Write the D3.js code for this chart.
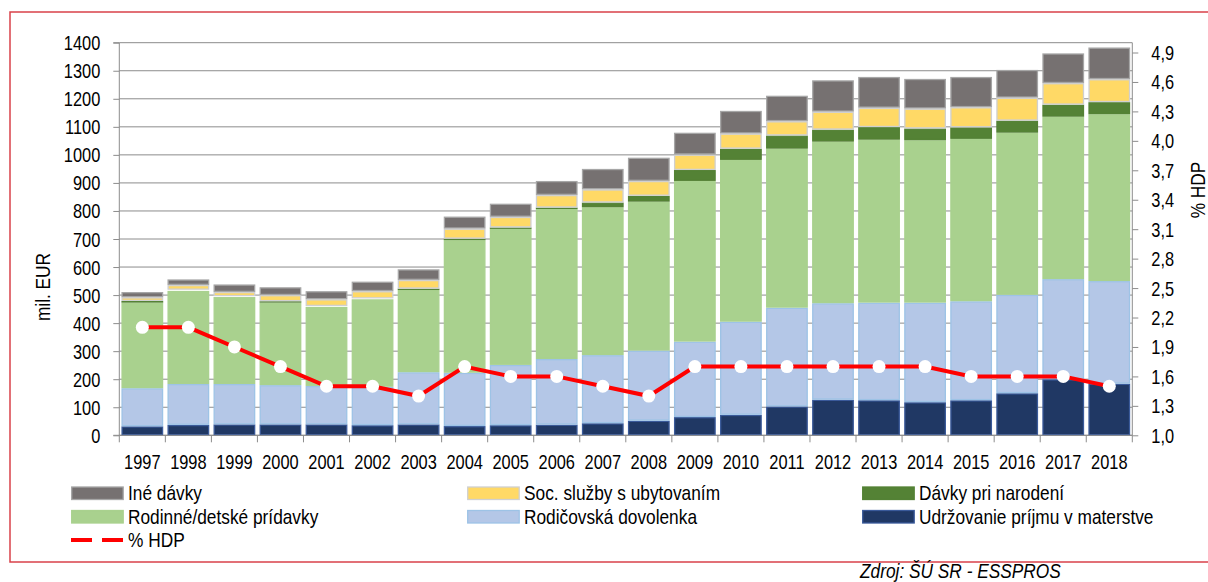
<!DOCTYPE html>
<html>
<head>
<meta charset="utf-8">
<script src="https://cdn.jsdelivr.net/npm/d3@7.9.0/dist/d3.min.js"></script>
<style>
  html, body { margin: 0; padding: 0; background: #fff; }
  svg { display: block; }
  text { font-family: "Liberation Sans", Arial, sans-serif; fill: #000; }
</style>
</head>
<body>
<svg id="chart" width="1208" height="582"></svg>
<script>
// Data
const years = ["1997","1998","1999","2000","2001","2002","2003","2004","2005","2006","2007","2008","2009","2010","2011","2012","2013","2014","2015","2016","2017","2018"];
const udrzovanie = [32,37,39,39,39,36,39,33,36,38,43,52,65,73,103,127,125,118,125,150,200,184];
const rodicovska = [136,146,144,140,137,137,186,190,215,234,243,250,269,332,352,344,348,355,353,351,357,366];
const rodinne = [305,332,310,294,282,312,293,473,485,535,527,531,573,577,567,576,581,579,579,578,579,595];
const davkyNarodenie = [6,4,3,5,3,3,5,5,5,5,17,21,39,40,47,43,45,42,41,43,43,43];
const socSluzby = [13,17,15,22,24,26,31,36,38,45,47,53,55,54,51,64,69,71,72,82,77,82];
const ineDavky = [19,20,27,28,29,34,38,43,47,50,73,83,78,81,91,112,110,106,108,99,106,113];
const hdp = [2.1,2.1,1.9,1.7,1.5,1.5,1.4,1.7,1.6,1.6,1.5,1.4,1.7,1.7,1.7,1.7,1.7,1.7,1.6,1.6,1.6,1.5];

const leftTicks = d3.range(0, 1401, 100);
const rightTicks = [1.0,1.3,1.6,1.9,2.2,2.5,2.8,3.1,3.4,3.7,4.0,4.3,4.6,4.9];

// Series, bottom to top of the stack
const series = [
  { key: "udrz", name: "Udržovanie príjmu v materstve", values: udrzovanie, fill: "#203864", stroke: "#3a5a9a" },
  { key: "rodic", name: "Rodičovská dovolenka", values: rodicovska, fill: "#b4c7e7", stroke: "#9dc3e6" },
  { key: "rodin", name: "Rodinné/detské prídavky", values: rodinne, fill: "#a9d18e", stroke: "#a9d18e" },
  { key: "narod", name: "Dávky pri narodení", values: davkyNarodenie, fill: "#548235", stroke: "#548235" },
  { key: "soc", name: "Soc. služby s ubytovaním", values: socSluzby, fill: "#ffd966", stroke: "#d0d0d0" },
  { key: "ine", name: "Iné dávky", values: ineDavky, fill: "#767171", stroke: "#a6a6a6" }
];

const svg = d3.select("#chart");
const plot = { left: 119.3, right: 1132.3, top: 42.7, bottom: 435.3 };
const gridColor = "#8c8c8c";
const fontSize = 20;
const squeezeDigits = 0.82; // narrow font look, made by scaling Liberation Sans
const squeezeWords = 0.865;

// Text helper: places a horizontally squeezed label
function label(parent, tx, ty, str, anchor = "start", rotate = 0, k = squeezeWords) {
  return parent.append("text")
    .attr("transform", `translate(${tx},${ty}) rotate(${rotate}) scale(${k},1)`)
    .attr("text-anchor", anchor)
    .attr("font-size", fontSize)
    .text(str);
}

// Outer red frame
svg.append("rect")
  .attr("x", 10).attr("y", 12)
  .attr("width", 1210).attr("height", 550)
  .attr("fill", "none").attr("stroke", "#d9414a").attr("stroke-width", 1.5);

// Scales
const x = d3.scaleBand().domain(years).range([plot.left, plot.right])
  .paddingInner(0.09).paddingOuter(0.045);
const y = d3.scaleLinear().domain([0, 1400]).range([plot.bottom, plot.top]);
const y2 = d3.scaleLinear().domain([1.0, 5.0]).range([plot.bottom, plot.top]);

// Gridlines
svg.append("g").selectAll("line").data(leftTicks).join("line")
  .attr("x1", plot.left).attr("x2", plot.right)
  .attr("y1", d => y(d)).attr("y2", d => y(d))
  .attr("stroke", gridColor).attr("stroke-width", 1);

// Stacked bars
const table = years.map((yr, i) => {
  const row = { year: yr };
  series.forEach(s => { row[s.key] = s.values[i]; });
  return row;
});
const stacked = d3.stack().keys(series.map(s => s.key))(table);

svg.append("g").selectAll("g").data(stacked).join("g")
  .attr("fill", (d, i) => series[i].fill)
  .attr("stroke", (d, i) => series[i].stroke)
  .attr("stroke-width", 1.3)
  .selectAll("rect").data(d => d).join("rect")
  .attr("x", d => x(d.data.year) + 0.7)
  .attr("width", x.bandwidth() - 1.4)
  .attr("y", d => y(d[1]) + 0.65)
  .attr("height", d => Math.max(0, y(d[0]) - y(d[1]) - 1.3));

// Squeeze the tick labels that d3 axes create
function squeezeTicks(g, offset, anchor) {
  g.selectAll(".tick text")
    .attr("x", null).attr("dy", "0.35em")
    .attr("font-size", fontSize).attr("fill", "#000")
    .attr("text-anchor", anchor)
    .attr("transform", `translate(${offset},0) scale(${squeezeDigits},1)`);
}

// Left axis
const leftAxis = svg.append("g")
  .attr("transform", `translate(${plot.left},0)`)
  .call(d3.axisLeft(y).tickValues(leftTicks).tickSize(6).tickFormat(d3.format("d")));
leftAxis.select(".domain").attr("stroke", gridColor).attr("d", `M-6,${plot.top}H0V${plot.bottom}H-6`);
leftAxis.selectAll(".tick line").attr("stroke", gridColor);
squeezeTicks(leftAxis, -19, "end");

// Right axis
const rightAxis = svg.append("g")
  .attr("transform", `translate(${plot.right},0)`)
  .call(d3.axisRight(y2).tickValues(rightTicks).tickSize(6)
    .tickFormat(d => d3.format(".1f")(d).replace(".", ",")));
rightAxis.select(".domain").attr("stroke", gridColor).attr("d", `M0,${plot.top}V${plot.bottom}`);
rightAxis.selectAll(".tick line").attr("stroke", gridColor);
squeezeTicks(rightAxis, 19, "start");

// Bottom axis: ticks on band boundaries
const xAxis = svg.append("g").attr("transform", `translate(0,${plot.bottom})`);
xAxis.append("line").attr("x1", plot.left).attr("x2", plot.right)
  .attr("stroke", gridColor);
const bounds = years.map(yr => x(yr) - x.step() * x.paddingInner() / 2).concat([plot.right]);
xAxis.selectAll(".tk").data(bounds).join("line").attr("class", "tk")
  .attr("x1", d => d).attr("x2", d => d).attr("y1", 0).attr("y2", 7)
  .attr("stroke", gridColor);
years.forEach(yr => label(xAxis, x(yr) + x.bandwidth() / 2, 34, yr, "middle", 0, squeezeDigits));

// % HDP line
const line = d3.line()
  .x((d, i) => x(years[i]) + x.bandwidth() / 2)
  .y(d => y2(d));
svg.append("path").datum(hdp)
  .attr("d", line).attr("fill", "none")
  .attr("stroke", "#ff0000").attr("stroke-width", 4);
svg.append("g").selectAll("circle").data(hdp).join("circle")
  .attr("cx", (d, i) => x(years[i]) + x.bandwidth() / 2)
  .attr("cy", d => y2(d))
  .attr("r", 6.5).attr("fill", "#fff");

// Axis titles
label(svg, 50, 287, "mil. EUR", "middle", -90);
label(svg, 1205, 190, "% HDP", "middle", -90);

// Legend
const legendItems = [
  { s: series[5], col: 0, row: 0 },
  { s: series[4], col: 1, row: 0 },
  { s: series[3], col: 2, row: 0 },
  { s: series[2], col: 0, row: 1 },
  { s: series[1], col: 1, row: 1 },
  { s: series[0], col: 2, row: 1 }
];
const colX = [71, 467, 862];
const rowY = [493, 516.5, 540];
const legend = svg.append("g");
legendItems.forEach(d => {
  legend.append("rect")
    .attr("x", colX[d.col] + 0.7).attr("y", rowY[d.row] - 6)
    .attr("width", 51.5).attr("height", 12.5)
    .attr("fill", d.s.fill).attr("stroke", d.s.stroke).attr("stroke-width", 1.3);
  label(legend, colX[d.col] + 57, rowY[d.row] + 7, d.s.name);
});
legend.append("line")
  .attr("x1", colX[0]).attr("x2", colX[0] + 52)
  .attr("y1", rowY[2]).attr("y2", rowY[2])
  .attr("stroke", "#ff0000").attr("stroke-width", 4)
  .attr("stroke-dasharray", "21,10");
label(legend, colX[0] + 57, rowY[2] + 7, "% HDP");

// Source note
label(svg, 860, 578, "Zdroj: ŠÚ SR - ESSPROS").attr("font-style", "italic");
</script>
</body>
</html>
